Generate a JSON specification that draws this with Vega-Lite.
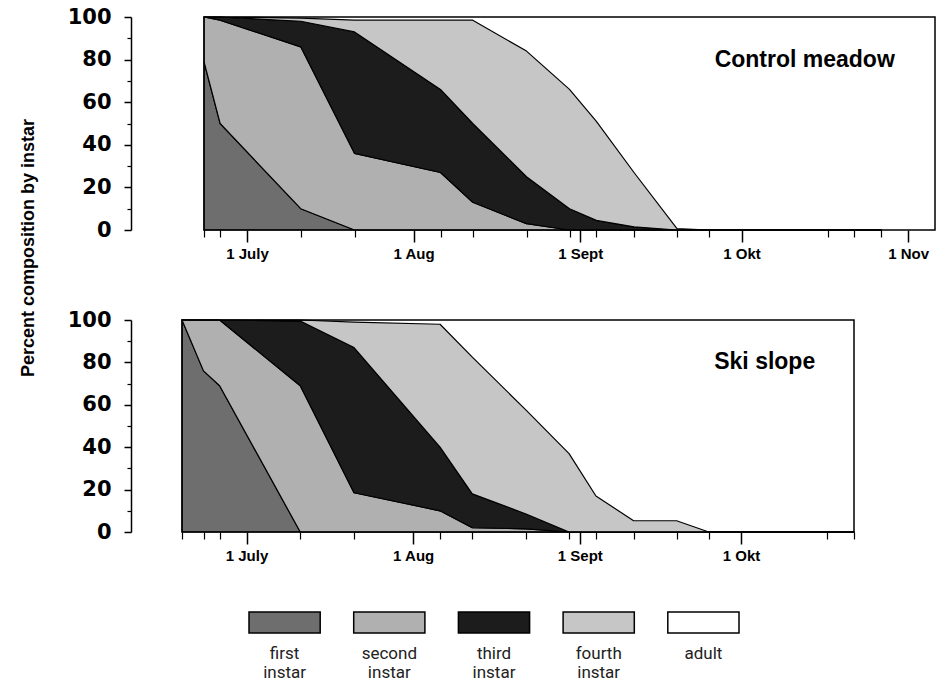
{
  "$schema": "https://vega.github.io/schema/vega-lite/v6.json",
  "padding": {"left": 20, "top": 6, "right": 4, "bottom": 0},
  "autosize": {"type": "pad"},
  "title": {"text": "Percent composition by instar", "orient": "left", "anchor": "middle", "font": "Liberation Sans", "fontSize": 18, "fontWeight": "bold", "color": "black", "offset": 29, "dx": 95},
  "datasets": {
    "control": [
      {"date": "1990/06/23", "stage": 1, "pct": 79}, {"date": "1990/06/23", "stage": 2, "pct": 21}, {"date": "1990/06/23", "stage": 3, "pct": 0}, {"date": "1990/06/23", "stage": 4, "pct": 0}, {"date": "1990/06/23", "stage": 5, "pct": 0},
      {"date": "1990/06/26", "stage": 1, "pct": 50}, {"date": "1990/06/26", "stage": 2, "pct": 48.5}, {"date": "1990/06/26", "stage": 3, "pct": 1.5}, {"date": "1990/06/26", "stage": 4, "pct": 0}, {"date": "1990/06/26", "stage": 5, "pct": 0},
      {"date": "1990/07/11", "stage": 1, "pct": 10}, {"date": "1990/07/11", "stage": 2, "pct": 76}, {"date": "1990/07/11", "stage": 3, "pct": 12}, {"date": "1990/07/11", "stage": 4, "pct": 1.5}, {"date": "1990/07/11", "stage": 5, "pct": 0.5},
      {"date": "1990/07/21", "stage": 1, "pct": 0}, {"date": "1990/07/21", "stage": 2, "pct": 36}, {"date": "1990/07/21", "stage": 3, "pct": 57}, {"date": "1990/07/21", "stage": 4, "pct": 5.5}, {"date": "1990/07/21", "stage": 5, "pct": 1.5},
      {"date": "1990/08/06", "stage": 1, "pct": 0}, {"date": "1990/08/06", "stage": 2, "pct": 27}, {"date": "1990/08/06", "stage": 3, "pct": 39}, {"date": "1990/08/06", "stage": 4, "pct": 32.5}, {"date": "1990/08/06", "stage": 5, "pct": 1.5},
      {"date": "1990/08/12", "stage": 1, "pct": 0}, {"date": "1990/08/12", "stage": 2, "pct": 13}, {"date": "1990/08/12", "stage": 3, "pct": 37}, {"date": "1990/08/12", "stage": 4, "pct": 48.5}, {"date": "1990/08/12", "stage": 5, "pct": 1.5},
      {"date": "1990/08/22", "stage": 1, "pct": 0}, {"date": "1990/08/22", "stage": 2, "pct": 3}, {"date": "1990/08/22", "stage": 3, "pct": 22}, {"date": "1990/08/22", "stage": 4, "pct": 59}, {"date": "1990/08/22", "stage": 5, "pct": 16},
      {"date": "1990/08/30", "stage": 1, "pct": 0}, {"date": "1990/08/30", "stage": 2, "pct": 0}, {"date": "1990/08/30", "stage": 3, "pct": 10}, {"date": "1990/08/30", "stage": 4, "pct": 56}, {"date": "1990/08/30", "stage": 5, "pct": 34},
      {"date": "1990/09/04", "stage": 1, "pct": 0}, {"date": "1990/09/04", "stage": 2, "pct": 0}, {"date": "1990/09/04", "stage": 3, "pct": 4.5}, {"date": "1990/09/04", "stage": 4, "pct": 46.5}, {"date": "1990/09/04", "stage": 5, "pct": 49},
      {"date": "1990/09/11", "stage": 1, "pct": 0}, {"date": "1990/09/11", "stage": 2, "pct": 0}, {"date": "1990/09/11", "stage": 3, "pct": 1.5}, {"date": "1990/09/11", "stage": 4, "pct": 25.5}, {"date": "1990/09/11", "stage": 5, "pct": 73},
      {"date": "1990/09/19", "stage": 1, "pct": 0}, {"date": "1990/09/19", "stage": 2, "pct": 0}, {"date": "1990/09/19", "stage": 3, "pct": 0}, {"date": "1990/09/19", "stage": 4, "pct": 0.6}, {"date": "1990/09/19", "stage": 5, "pct": 99.4},
      {"date": "1990/09/25", "stage": 1, "pct": 0}, {"date": "1990/09/25", "stage": 2, "pct": 0}, {"date": "1990/09/25", "stage": 3, "pct": 0}, {"date": "1990/09/25", "stage": 4, "pct": 0}, {"date": "1990/09/25", "stage": 5, "pct": 100},
      {"date": "1990/10/17", "stage": 1, "pct": 0}, {"date": "1990/10/17", "stage": 2, "pct": 0}, {"date": "1990/10/17", "stage": 3, "pct": 0}, {"date": "1990/10/17", "stage": 4, "pct": 0}, {"date": "1990/10/17", "stage": 5, "pct": 100},
      {"date": "1990/10/22", "stage": 1, "pct": 0}, {"date": "1990/10/22", "stage": 2, "pct": 0}, {"date": "1990/10/22", "stage": 3, "pct": 0}, {"date": "1990/10/22", "stage": 4, "pct": 0}, {"date": "1990/10/22", "stage": 5, "pct": 100},
      {"date": "1990/10/27", "stage": 1, "pct": 0}, {"date": "1990/10/27", "stage": 2, "pct": 0}, {"date": "1990/10/27", "stage": 3, "pct": 0}, {"date": "1990/10/27", "stage": 4, "pct": 0}, {"date": "1990/10/27", "stage": 5, "pct": 100}
    ],
    "ski": [
      {"date": "1990/06/19", "stage": 1, "pct": 100}, {"date": "1990/06/19", "stage": 2, "pct": 0}, {"date": "1990/06/19", "stage": 3, "pct": 0}, {"date": "1990/06/19", "stage": 4, "pct": 0}, {"date": "1990/06/19", "stage": 5, "pct": 0},
      {"date": "1990/06/23", "stage": 1, "pct": 76}, {"date": "1990/06/23", "stage": 2, "pct": 24}, {"date": "1990/06/23", "stage": 3, "pct": 0}, {"date": "1990/06/23", "stage": 4, "pct": 0}, {"date": "1990/06/23", "stage": 5, "pct": 0},
      {"date": "1990/06/26", "stage": 1, "pct": 69}, {"date": "1990/06/26", "stage": 2, "pct": 31}, {"date": "1990/06/26", "stage": 3, "pct": 0}, {"date": "1990/06/26", "stage": 4, "pct": 0}, {"date": "1990/06/26", "stage": 5, "pct": 0},
      {"date": "1990/07/11", "stage": 1, "pct": 0}, {"date": "1990/07/11", "stage": 2, "pct": 69}, {"date": "1990/07/11", "stage": 3, "pct": 30.5}, {"date": "1990/07/11", "stage": 4, "pct": 0.5}, {"date": "1990/07/11", "stage": 5, "pct": 0},
      {"date": "1990/07/21", "stage": 1, "pct": 0}, {"date": "1990/07/21", "stage": 2, "pct": 18.5}, {"date": "1990/07/21", "stage": 3, "pct": 68.5}, {"date": "1990/07/21", "stage": 4, "pct": 12}, {"date": "1990/07/21", "stage": 5, "pct": 1},
      {"date": "1990/08/06", "stage": 1, "pct": 0}, {"date": "1990/08/06", "stage": 2, "pct": 10}, {"date": "1990/08/06", "stage": 3, "pct": 30}, {"date": "1990/08/06", "stage": 4, "pct": 58}, {"date": "1990/08/06", "stage": 5, "pct": 2},
      {"date": "1990/08/12", "stage": 1, "pct": 0}, {"date": "1990/08/12", "stage": 2, "pct": 2}, {"date": "1990/08/12", "stage": 3, "pct": 16}, {"date": "1990/08/12", "stage": 4, "pct": 64.5}, {"date": "1990/08/12", "stage": 5, "pct": 17.5},
      {"date": "1990/08/22", "stage": 1, "pct": 0}, {"date": "1990/08/22", "stage": 2, "pct": 1.5}, {"date": "1990/08/22", "stage": 3, "pct": 7}, {"date": "1990/08/22", "stage": 4, "pct": 49}, {"date": "1990/08/22", "stage": 5, "pct": 42.5},
      {"date": "1990/08/30", "stage": 1, "pct": 0}, {"date": "1990/08/30", "stage": 2, "pct": 0}, {"date": "1990/08/30", "stage": 3, "pct": 0}, {"date": "1990/08/30", "stage": 4, "pct": 37}, {"date": "1990/08/30", "stage": 5, "pct": 63},
      {"date": "1990/09/04", "stage": 1, "pct": 0}, {"date": "1990/09/04", "stage": 2, "pct": 0}, {"date": "1990/09/04", "stage": 3, "pct": 0}, {"date": "1990/09/04", "stage": 4, "pct": 17}, {"date": "1990/09/04", "stage": 5, "pct": 83},
      {"date": "1990/09/11", "stage": 1, "pct": 0}, {"date": "1990/09/11", "stage": 2, "pct": 0}, {"date": "1990/09/11", "stage": 3, "pct": 0}, {"date": "1990/09/11", "stage": 4, "pct": 5.3}, {"date": "1990/09/11", "stage": 5, "pct": 94.7},
      {"date": "1990/09/19", "stage": 1, "pct": 0}, {"date": "1990/09/19", "stage": 2, "pct": 0}, {"date": "1990/09/19", "stage": 3, "pct": 0}, {"date": "1990/09/19", "stage": 4, "pct": 5.3}, {"date": "1990/09/19", "stage": 5, "pct": 94.7},
      {"date": "1990/09/25", "stage": 1, "pct": 0}, {"date": "1990/09/25", "stage": 2, "pct": 0}, {"date": "1990/09/25", "stage": 3, "pct": 0}, {"date": "1990/09/25", "stage": 4, "pct": 0}, {"date": "1990/09/25", "stage": 5, "pct": 100},
      {"date": "1990/10/17", "stage": 1, "pct": 0}, {"date": "1990/10/17", "stage": 2, "pct": 0}, {"date": "1990/10/17", "stage": 3, "pct": 0}, {"date": "1990/10/17", "stage": 4, "pct": 0}, {"date": "1990/10/17", "stage": 5, "pct": 100},
      {"date": "1990/10/22", "stage": 1, "pct": 0}, {"date": "1990/10/22", "stage": 2, "pct": 0}, {"date": "1990/10/22", "stage": 3, "pct": 0}, {"date": "1990/10/22", "stage": 4, "pct": 0}, {"date": "1990/10/22", "stage": 5, "pct": 100}
    ]
  },
  "spacing": 48,
  "vconcat": [
    {
      "width": 753,
      "height": 213,
      "data": {"name": "control"},
      "layer": [
        {
          "mark": {"type": "area", "strokeWidth": 1.2, "strokeJoin": "round"},
          "encoding": {
            "x": {"field": "date", "type": "temporal",
              "scale": {"domain": [{"year": 1990, "month": 6, "date": 23}, {"year": 1990, "month": 11, "date": 6}], "range": [22, 753]},
              "axis": {"orient": "bottom", "title": null, "grid": false, "domain": false,
                "values": [{"year": 1990, "month": 7, "date": 1}, {"year": 1990, "month": 8, "date": 1}, {"year": 1990, "month": 9, "date": 1}, {"year": 1990, "month": 10, "date": 1}, {"year": 1990, "month": 11, "date": 1}],
                "labelExpr": "['1 July','1 Aug','1 Sept','1 Okt','1 Nov'][month(datum.value)-6]",
                "tickSize": 12, "tickWidth": 1.5, "labelPadding": 4, "labelFlush": false, "labelOverlap": false,
                "labelFont": "Liberation Sans", "labelFontWeight": "bold", "labelFontSize": 15}},
            "y": {"field": "pct", "type": "quantitative", "stack": "zero",
              "scale": {"domain": [0, 100], "nice": false},
              "axis": {"orient": "left", "offset": 51, "title": null, "grid": false, "values": [0, 20, 40, 60, 80, 100],
                "tickSize": 7, "tickWidth": 1.5, "domainWidth": 1.5, "labelPadding": 13,
                "labelFont": "DejaVu Sans", "labelFontWeight": "bold", "labelFontSize": 21}},
            "order": {"field": "stage", "type": "quantitative", "sort": "ascending"},
            "fill": {"field": "stage", "type": "ordinal", "legend": null,
              "scale": {"domain": [1, 2, 3, 4, 5], "range": ["#6e6e6e", "#b0b0b0", "#1c1c1c", "#c6c6c6", "transparent"]}},
            "stroke": {"condition": {"test": "datum.stage == 5", "value": "transparent"}, "value": "black"}
          }
        },
        {
          "data": {"values": [{"date": "1990/09/26", "pct": 80, "label": "Control meadow"}]},
          "mark": {"type": "text", "align": "left", "baseline": "middle", "font": "Liberation Sans", "fontSize": 23, "fontWeight": "bold", "color": "black"},
          "encoding": {
            "x": {"field": "date", "type": "temporal",
              "axis": {"orient": "bottom", "title": null, "grid": false, "labels": false, "domain": false, "tickSize": 7, "tickWidth": 1.2,
                "values": [{"year": 1990, "month": 6, "date": 23}, {"year": 1990, "month": 6, "date": 26}, {"year": 1990, "month": 7, "date": 11}, {"year": 1990, "month": 7, "date": 21}, {"year": 1990, "month": 8, "date": 6}, {"year": 1990, "month": 8, "date": 12}, {"year": 1990, "month": 8, "date": 22}, {"year": 1990, "month": 8, "date": 30}, {"year": 1990, "month": 9, "date": 4}, {"year": 1990, "month": 9, "date": 11}, {"year": 1990, "month": 9, "date": 19}, {"year": 1990, "month": 9, "date": 25}, {"year": 1990, "month": 10, "date": 17}, {"year": 1990, "month": 10, "date": 22}, {"year": 1990, "month": 10, "date": 27}]}},
            "y": {"field": "pct", "type": "quantitative",
              "axis": {"orient": "left", "offset": 51, "title": null, "grid": false, "labels": false, "domain": false, "tickSize": 4, "tickWidth": 1.2, "values": [10, 30, 50, 70, 90]}},
            "text": {"field": "label"}
          }
        },
        {
          "data": {"values": [{}]},
          "mark": {"type": "rect", "fill": "transparent", "stroke": "black", "strokeWidth": 1.5},
          "encoding": {
            "x": {"datum": {"year": 1990, "month": 6, "date": 23}, "type": "temporal", "axis": null},
            "x2": {"datum": {"year": 1990, "month": 11, "date": 6}},
            "y": {"datum": 0, "type": "quantitative", "axis": null},
            "y2": {"datum": 100}
          }
        }
      ],
      "resolve": {"axis": {"x": "independent", "y": "independent"}}
    },
    {
      "width": 672,
      "height": 212,
      "data": {"name": "ski"},
      "layer": [
        {
          "mark": {"type": "area", "strokeWidth": 1.2, "strokeJoin": "round"},
          "encoding": {
            "x": {"field": "date", "type": "temporal",
              "scale": {"domain": [{"year": 1990, "month": 6, "date": 19}, {"year": 1990, "month": 10, "date": 22}]},
              "axis": {"orient": "bottom", "title": null, "grid": false, "domain": false,
                "values": [{"year": 1990, "month": 7, "date": 1}, {"year": 1990, "month": 8, "date": 1}, {"year": 1990, "month": 9, "date": 1}, {"year": 1990, "month": 10, "date": 1}],
                "labelExpr": "['1 July','1 Aug','1 Sept','1 Okt','1 Nov'][month(datum.value)-6]",
                "tickSize": 12, "tickWidth": 1.5, "labelPadding": 4, "labelFlush": false, "labelOverlap": false,
                "labelFont": "Liberation Sans", "labelFontWeight": "bold", "labelFontSize": 15}},
            "y": {"field": "pct", "type": "quantitative", "stack": "zero",
              "scale": {"domain": [0, 100], "nice": false},
              "axis": {"orient": "left", "offset": 51, "title": null, "grid": false, "values": [0, 20, 40, 60, 80, 100],
                "tickSize": 7, "tickWidth": 1.5, "domainWidth": 1.5, "labelPadding": 13,
                "labelFont": "DejaVu Sans", "labelFontWeight": "bold", "labelFontSize": 21}},
            "order": {"field": "stage", "type": "quantitative", "sort": "ascending"},
            "fill": {"field": "stage", "type": "ordinal", "legend": null,
              "scale": {"domain": [1, 2, 3, 4, 5], "range": ["#6e6e6e", "#b0b0b0", "#1c1c1c", "#c6c6c6", "transparent"]}},
            "stroke": {"condition": {"test": "datum.stage == 5", "value": "transparent"}, "value": "black"}
          }
        },
        {
          "data": {"values": [{"date": "1990/09/26", "pct": 80, "label": "Ski slope"}]},
          "mark": {"type": "text", "align": "left", "baseline": "middle", "font": "Liberation Sans", "fontSize": 23, "fontWeight": "bold", "color": "black"},
          "encoding": {
            "x": {"field": "date", "type": "temporal",
              "axis": {"orient": "bottom", "title": null, "grid": false, "labels": false, "domain": false, "tickSize": 7, "tickWidth": 1.2,
                "values": [{"year": 1990, "month": 6, "date": 19}, {"year": 1990, "month": 6, "date": 23}, {"year": 1990, "month": 6, "date": 26}, {"year": 1990, "month": 7, "date": 11}, {"year": 1990, "month": 7, "date": 21}, {"year": 1990, "month": 8, "date": 6}, {"year": 1990, "month": 8, "date": 12}, {"year": 1990, "month": 8, "date": 22}, {"year": 1990, "month": 8, "date": 30}, {"year": 1990, "month": 9, "date": 4}, {"year": 1990, "month": 9, "date": 11}, {"year": 1990, "month": 9, "date": 19}, {"year": 1990, "month": 9, "date": 25}, {"year": 1990, "month": 10, "date": 17}, {"year": 1990, "month": 10, "date": 22}]}},
            "y": {"field": "pct", "type": "quantitative",
              "axis": {"orient": "left", "offset": 51, "title": null, "grid": false, "labels": false, "domain": false, "tickSize": 4, "tickWidth": 1.2, "values": [10, 30, 50, 70, 90]}},
            "text": {"field": "label"}
          }
        },
        {
          "data": {"values": [{}]},
          "mark": {"type": "rect", "fill": "transparent", "stroke": "black", "strokeWidth": 1.5},
          "encoding": {
            "x": {"datum": {"year": 1990, "month": 6, "date": 19}, "type": "temporal", "axis": null},
            "x2": {"datum": {"year": 1990, "month": 10, "date": 22}},
            "y": {"datum": 0, "type": "quantitative", "axis": null},
            "y2": {"datum": 100}
          }
        }
      ],
      "resolve": {"axis": {"x": "independent", "y": "independent"}}
    },
    {
      "spacing": 0,
      "hconcat": [
        {
          "width": 66,
          "height": 21,
          "data": {"values": []},
          "mark": {"type": "rect", "opacity": 0}
        },
        {
          "width": 490,
          "height": 21,
          "data": {"values": [
            {"stage": 1, "name": "first instar"},
            {"stage": 2, "name": "second instar"},
            {"stage": 3, "name": "third instar"},
            {"stage": 4, "name": "fourth instar"},
            {"stage": 5, "name": "adult"}
          ]},
          "mark": {"type": "bar", "stroke": "black", "strokeWidth": 1.5},
          "encoding": {
            "x": {"field": "name", "type": "nominal", "sort": ["first instar", "second instar", "third instar", "fourth instar", "adult"],
              "scale": {"type": "band", "paddingInner": 0.32, "paddingOuter": 0},
              "axis": {"orient": "bottom", "title": null, "domain": false, "ticks": false, "labelAngle": 0, "labelPadding": 12,
                "labelFont": "Roboto", "labelFontSize": 17, "labelColor": "#222222", "labelLineHeight": 19,
                "labelExpr": "split(datum.label, ' ')"}},
            "fill": {"field": "stage", "type": "ordinal", "legend": null,
              "scale": {"domain": [1, 2, 3, 4, 5], "range": ["#6e6e6e", "#b0b0b0", "#1c1c1c", "#c6c6c6", "transparent"]}}
          }
        }
      ]
    }
  ],
  "config": {
    "view": {"stroke": null},
    "axis": {"labelColor": "black", "tickColor": "black", "domainColor": "black"}
  }
}
